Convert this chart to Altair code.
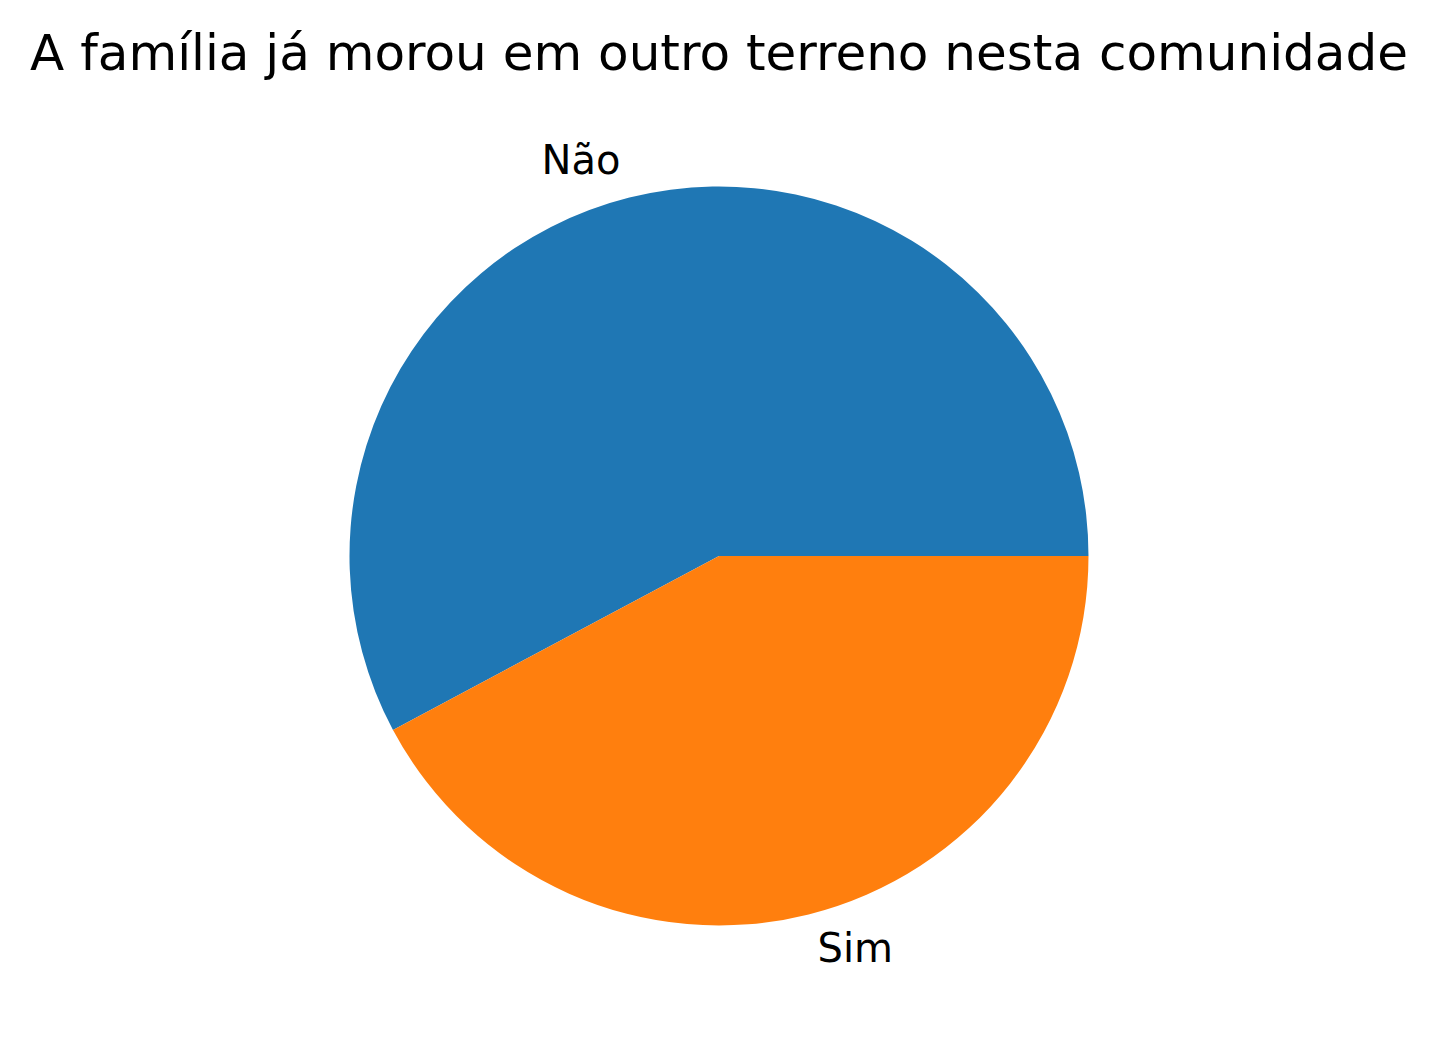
import altair as alt
import pandas as pd

categories = ["Não", "Sim"]
values = [57.8, 42.2]
colors = ["#1f77b4", "#ff7f0e"]
title_text = "A família já morou em outro terreno nesta comunidade"

df = pd.DataFrame({"category": categories, "value": values})
total = sum(values)

W, H = 1422, 856
R = 369.5
FONT = "DejaVu Sans"
start = 3.141592653589793 / 2
theta_scale = alt.Scale(domain=[0, total], range=[start, start + 2 * 3.141592653589793])
color_scale = alt.Scale(domain=categories, range=colors)

base = alt.Chart(df).transform_stack(
    stack="value", groupby=[], as_=["v0", "v1"],
    sort=[alt.SortField("category", order="descending")],
).transform_calculate(
    mid="(datum.v0 + datum.v1) / 2",
).transform_calculate(
    side=f"sin({start} + 2 * PI * datum.mid / {total})",
)

arcs = base.mark_arc(outerRadius=R, stroke=None).encode(
    theta=alt.Theta("v0:Q", scale=theta_scale),
    theta2="v1:Q",
    color=alt.Color("category:N", scale=color_scale, legend=None),
)

def label_layer(expr, align):
    return base.transform_filter(expr).mark_text(
        radius=R * 1.1, align=align, baseline="middle", font=FONT,
        fontSize=40, color="black",
    ).encode(
        theta=alt.Theta("mid:Q", scale=theta_scale),
        text="category:N",
    )

labels_left = label_layer("datum.side < 0", "right")
labels_right = label_layer("datum.side >= 0", "left")

chart = alt.layer(arcs, labels_left, labels_right).properties(
    width=W, height=H,
    title=alt.TitleParams(title_text, font=FONT, fontSize=50, fontWeight="normal",
                          color="black", anchor="middle", baseline="alphabetic", offset=8),
    autosize=alt.AutoSizeParams(type="none"),
    padding={"left": 0, "right": 0, "top": 120, "bottom": 0},
).configure_view(stroke=None)

chart.save("out.html", embed_options={"renderer": "svg", "actions": False})
